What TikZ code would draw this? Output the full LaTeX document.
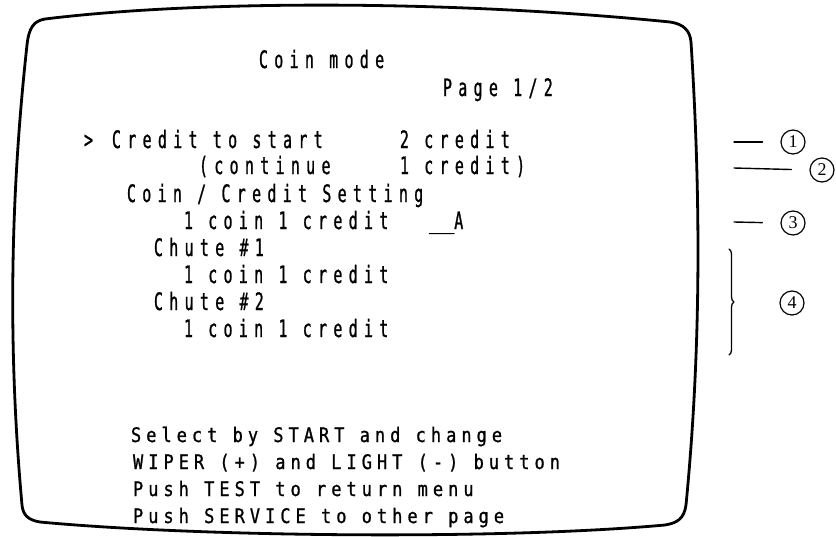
\documentclass[tikz,border=0pt]{standalone}
\usepackage{fontspec}
\usepackage{tikz}
\usetikzlibrary{decorations.pathreplacing}
\setmainfont{Liberation Serif}
\newfontfamily\scrfont[FakeStretch=0.62,LetterSpace=26.5,FakeBold=1]{DejaVu Sans Mono}
\newfontfamily\hintfont[FakeStretch=0.85,LetterSpace=25,FakeBold=1]{DejaVu Sans Mono}
\newfontfamily\barfont[FakeBold=1]{DejaVu Sans Mono}
\tikzset{
    every picture/.style={line cap=round,line join=round},
    scrline/.style={anchor=base west,inner sep=0pt,outer sep=0pt,
      font=\scrfont\fontsize{24}{24}\selectfont},
    hintline/.style={anchor=base west,inner sep=0pt,outer sep=0pt,
      font=\hintfont\fontsize{20}{20}\selectfont},
    callout/.style={circle,draw,line width=1.2pt,minimum size=24pt,inner sep=0pt,
      font=\fontsize{18}{18}\selectfont},
    leader/.style={line width=1.4pt,shorten >=18pt},
    bezel/.style={line width=2.8pt}
}
\begin{document}
\begin{tikzpicture}[x=1pt,y=-1pt]
  \useasboundingbox (0,0) rectangle (836,536);
  % screen outline
  \draw[bezel] (45,19) .. controls (200,0) and (450,0) .. (670,22)
    .. controls (684,24) and (690,31) .. (691,42)
    .. controls (701,200) and (701,350) .. (686,505)
    .. controls (684,519) and (677,523) .. (665,525)
    .. controls (500,540) and (200,537) .. (40,522)
    .. controls (28,520) and (23,515) .. (22,505)
    .. controls (8,350) and (10,200) .. (27,45)
    .. controls (29,27) and (34,21) .. (45,19) -- cycle;
  % menu text
  \node[scrline] (title) at (259,68) {Coin mode};
  \node[scrline] (page) at (443,96) {Page 1/2};
  \node[scrline] (cursor) at (84,148) {>};
  \node[scrline] (start) at (112,148) {Credit to start};
  \node[scrline] (startval) at (400,148) {2 credit};
  \node[scrline] (cont) at (199,174) {(continue};
  \node[scrline] (contval) at (400,174) {1 credit)};
  \node[scrline] (setting) at (127,202) {Coin / Credit Setting};
  \node[scrline] (common) at (184,229) {1 coin 1 credit};
  \node[scrline] (mode) at (429,229) {{\barfont\fontsize{21}{21}\selectfont\_\_}A};
  \node[scrline] (chute1) at (154,256) {Chute \#1};
  \node[scrline] (rate1) at (184,283) {1 coin 1 credit};
  \node[scrline] (chute2) at (154,310) {Chute \#2};
  \node[scrline] (rate2) at (184,337) {1 coin 1 credit};
  % help lines
  \node[hintline] (help1) at (131,442) {Select by START and change};
  \node[hintline] (help2) at (133,469) {WIPER (+) and LIGHT (-) button};
  \node[hintline] (help3) at (133,496) {Push TEST to return menu};
  \node[hintline] (help4) at (133,523) {Push SERVICE to other page};
  % callouts
  \node[callout] (n1) at (793,142) {1};
  \node[callout] (n2) at (822,170) {2};
  \node[callout] (n3) at (793,223) {3};
  \node[callout] (n4) at (792,303) {4};
  \coordinate (d1) at (734,142);
  \coordinate (d2) at (734,168);
  \coordinate (d3) at (734,222);
  \draw[leader] (d1) -- (n1.west);
  \draw[leader] (d2) -- (n2.west);
  \draw[leader] (d3) -- (n3.west);
  \coordinate (b1) at (729,249);
  \coordinate (b2) at (729,355);
  \draw[line width=1.3pt,decorate,decoration={brace,amplitude=5pt}] (b1) -- (b2);
\end{tikzpicture}
\end{document}
